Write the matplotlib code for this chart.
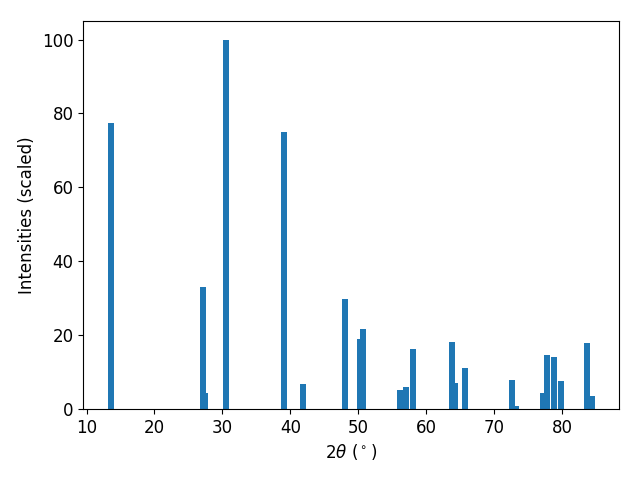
import matplotlib
matplotlib.use('Agg')
import matplotlib.pyplot as plt

# positions des pics (2theta) et intensites relatives
two_theta = [13.53, 27.15, 27.5, 30.51, 39.11, 41.91, 48.09, 50.25, 50.75,
             56.15, 57.05, 58.09, 63.75, 64.3, 65.73, 72.6, 73.25,
             77.15, 77.75, 78.82, 79.92, 83.75, 84.35]
intensities = [77.5, 32.9, 4.3, 100.0, 75.1, 6.8, 29.8, 19.0, 21.7,
               5.15, 6.0, 16.3, 18.2, 7.0, 11.1, 7.9, 0.8,
               4.3, 14.6, 14.1, 7.6, 17.9, 3.5]

plt.rcParams['font.size'] = 12

fig, ax = plt.subplots(figsize=(6.4, 4.8), dpi=100)
ax.bar(two_theta, intensities, width=0.88)
ax.set_xlabel(r'2$\theta$ ($^\circ$)')
ax.set_ylabel('Intensities (scaled)')
fig.subplots_adjust(left=0.130, right=0.967, bottom=0.148, top=0.956)
fig.savefig('out.png')
